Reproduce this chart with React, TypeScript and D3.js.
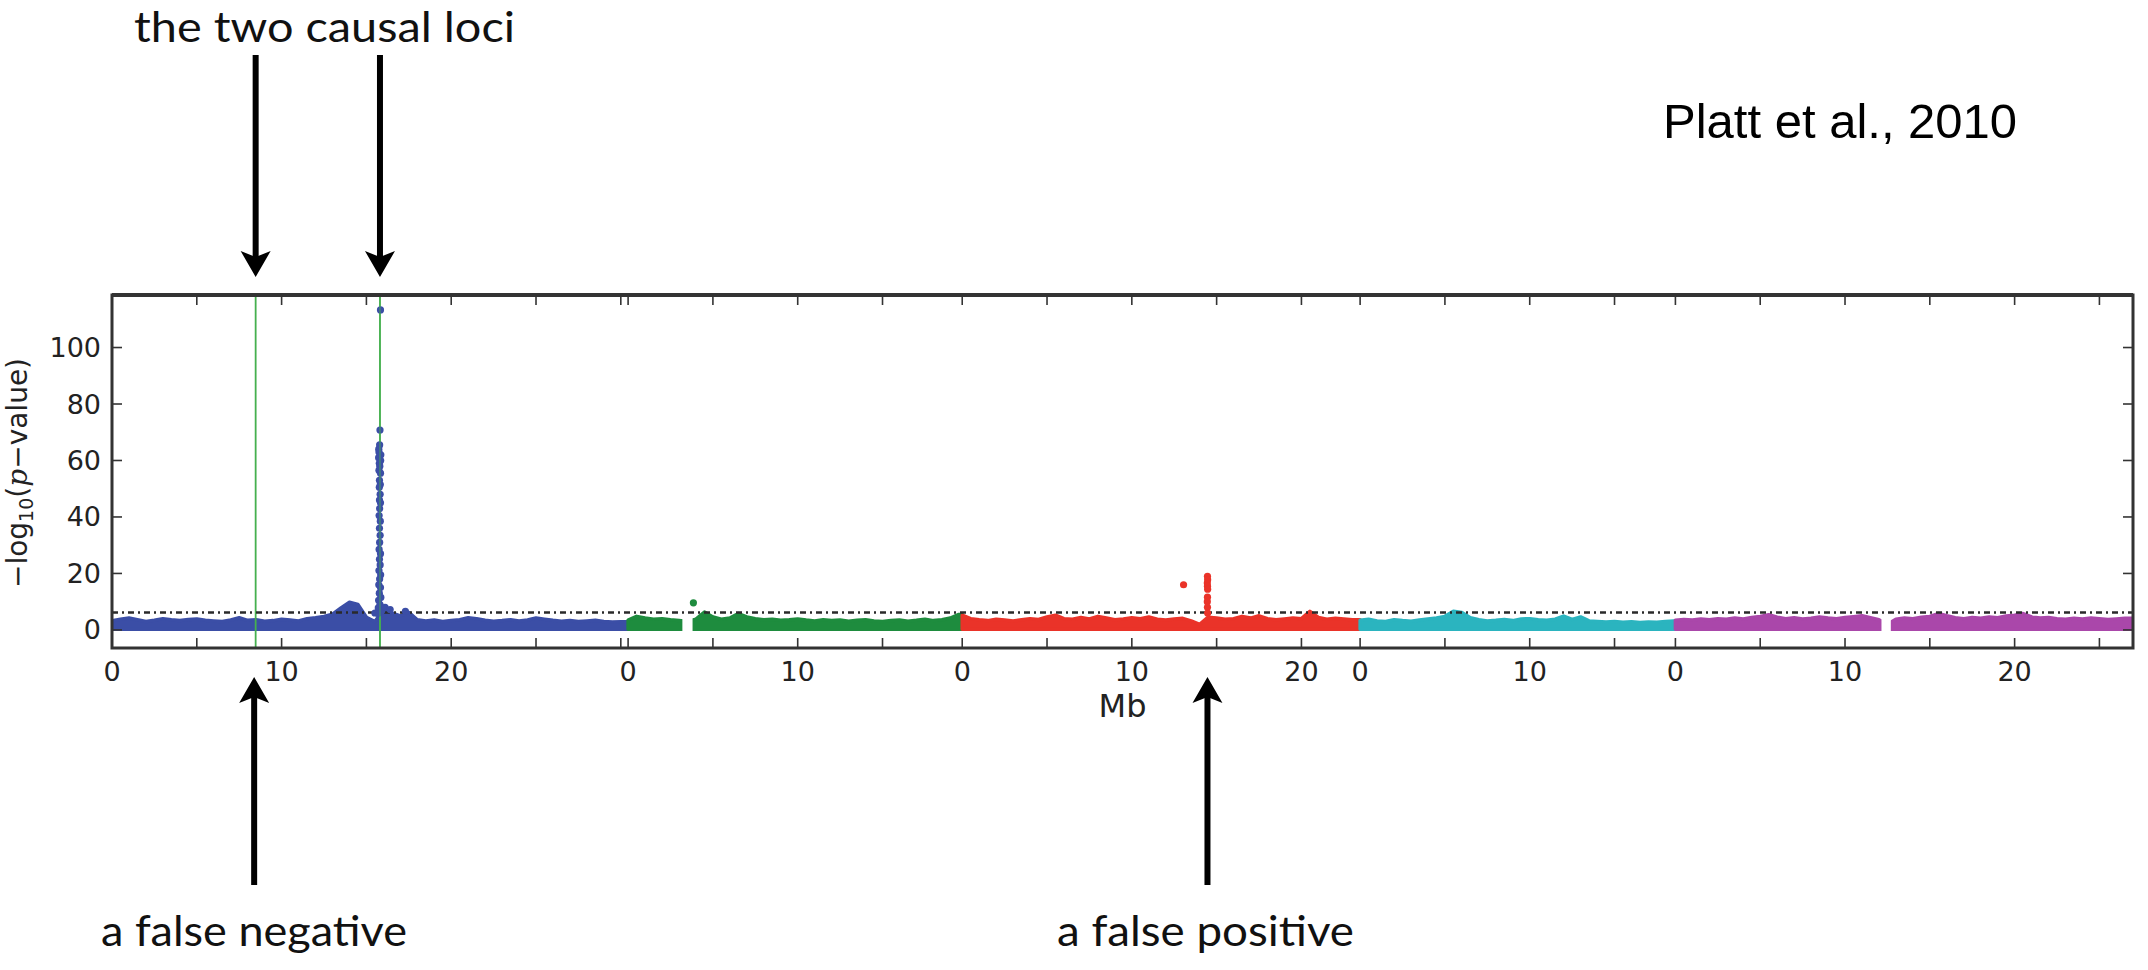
import React from 'react';
import * as d3 from 'd3';

// ---------- data ----------
const chromNames = ['1', '2', '3', '4', '5'];
const chromLengths = [30.43, 19.7, 23.46, 18.59, 26.98]; // Mb
const chromColors = ['#3b4ea6', '#1e8c3e', '#ea3329', '#2bb4bf', '#aa47aa'];

const bandStep = 0.5; // Mb between envelope samples
// upper envelope of the dense SNP cloud, -log10(p), every 0.5 Mb
const chr1Top = [3.2, 3.8, 4.2, 3.6, 3.0, 3.4, 4.0, 3.6, 3.3, 3.7, 3.9, 3.4, 3.2, 3.0, 3.5, 4.3, 3.4, 3.6, 3.1, 3.3,
  3.8, 3.5, 3.2, 4.0, 4.3, 4.8, 5.6, 7.8, 9.8, 9.0, 4.5, 3.0, 7.0, 6.0, 5.0, 6.2, 3.6, 3.2, 3.5, 3.0,
  3.3, 3.6, 4.3, 4.0, 3.4, 3.1, 3.3, 3.6, 3.2, 3.5, 4.2, 3.8, 3.4, 3.1, 3.3, 3.0, 3.2, 3.4, 3.0, 2.8, 2.9];
const chr2Top = [3.5, 4.8, 4.2, 3.8, 4.0, 3.6, 3.3, 3.0, 3.8, 6.3, 4.6, 3.8, 4.2, 5.8, 4.6, 4.0, 3.6, 3.8, 3.4, 3.6,
  3.9, 3.5, 3.2, 3.6, 3.3, 3.5, 3.1, 3.4, 3.6, 3.2, 3.0, 3.3, 3.5, 3.1, 3.4, 3.8, 3.3, 3.6, 4.2, 5.5];
const chr3Top = [5.2, 4.0, 3.6, 3.3, 3.8, 3.5, 3.2, 3.6, 4.0, 3.7, 4.6, 5.2, 4.0, 3.8, 4.4, 3.9, 4.8, 4.2, 3.6, 3.9,
  4.3, 4.0, 4.6, 3.8, 3.5, 3.9, 4.1, 3.2, 2.0, 4.5, 4.2, 3.8, 4.0, 4.8, 4.2, 5.0, 4.0, 3.6, 3.9, 4.2,
  4.0, 6.6, 4.4, 3.8, 4.1, 3.9, 3.6];
const chr4Top = [3.4, 3.8, 3.2, 3.0, 3.6, 3.3, 3.1, 3.5, 3.9, 4.2, 4.8, 6.6, 6.2, 4.3, 3.6, 3.2, 3.4, 3.7, 3.3, 3.9,
  4.0, 3.6, 3.4, 3.8, 4.9, 3.7, 4.6, 3.2, 3.0, 2.8, 3.0, 2.7, 2.9, 2.6, 2.8, 2.7, 3.0, 3.2];
const chr5Top = [3.4, 3.7, 3.5, 3.9, 3.6, 4.0, 3.8, 4.2, 3.9, 4.4, 4.8, 5.4, 4.5, 4.0, 4.3, 3.9, 4.1, 4.6, 4.2, 4.0,
  4.4, 4.7, 5.0, 4.3, 3.6, 2.0, 3.8, 4.2, 4.0, 4.5, 4.8, 5.8, 5.0, 4.3, 4.0, 4.4, 4.1, 4.6, 4.3, 4.9,
  5.2, 5.8, 4.6, 4.2, 4.4, 4.0, 3.8, 4.1, 3.9, 4.2, 4.0, 3.7, 3.9, 4.1];
const bandTops = [chr1Top, chr2Top, chr3Top, chr4Top, chr5Top];

// regions without markers: [chromosome index, from Mb, to Mb]
const markerGaps: [number, number, number][] = [[1, 3.2, 3.8], [4, 12.15, 12.7]];

// individual SNPs standing out of the cloud: [chromosome index, Mb, -log10 p]
const outliers: [number, number, number][] = [
  [0, 15.83, 113.3], [0, 15.8, 70.8], [0, 15.78, 65.5], [0, 15.73, 64.0], [0, 15.74, 63.0], [0, 15.85, 62.0],
  [0, 15.72, 61.0], [0, 15.84, 60.0], [0, 15.76, 59.0], [0, 15.79, 58.0], [0, 15.74, 56.5], [0, 15.83, 55.5],
  [0, 15.77, 53.0], [0, 15.82, 51.5], [0, 15.76, 50.5], [0, 15.81, 48.0], [0, 15.77, 46.0], [0, 15.83, 45.0],
  [0, 15.78, 43.0], [0, 15.75, 40.5], [0, 15.82, 38.5], [0, 15.77, 36.0], [0, 15.81, 33.5], [0, 15.78, 31.0],
  [0, 15.75, 28.5], [0, 15.83, 27.0], [0, 15.77, 25.0], [0, 15.81, 23.0], [0, 15.74, 21.0], [0, 15.84, 19.5],
  [0, 15.78, 18.0], [0, 15.73, 16.0], [0, 15.83, 15.0], [0, 15.76, 13.0], [0, 15.85, 11.5], [0, 15.72, 10.5],
  [0, 15.8, 9.0], [0, 15.7, 7.8], [0, 15.9, 6.8], [0, 15.68, 5.8], [0, 16.1, 8.0], [0, 16.4, 7.2],
  [0, 15.5, 6.0], [0, 17.3, 6.6],
  [1, 3.85, 9.6],
  [2, 13.05, 16.0], [2, 14.46, 19.0], [2, 14.47, 17.8], [2, 14.45, 16.6], [2, 14.46, 15.5], [2, 14.47, 14.4],
  [2, 14.46, 11.6], [2, 14.45, 10.0], [2, 14.46, 8.0], [2, 14.47, 6.0],
];

const causalLoci: [number, number][] = [[0, 8.47], [0, 15.8]]; // [chromosome index, Mb]
const falsePositive: [number, number] = [2, 14.46];
const threshold = 6.15;

const yTicks = [0, 20, 40, 60, 80, 100];
const xTickLabels = [[0, 10, 20], [0, 10], [0, 10, 20], [0, 10], [0, 10, 20]];
const minorTickStep = 5;

const yLabelParts = { pre: '\u2212log', sub: '10', open: '(', p: 'p', post: '\u2212value)' };
const xLabel = 'Mb';
const topNote = 'the two causal loci';
const noteNeg = 'a false negative';
const notePos = 'a false positive';
const citation = 'Platt et al., 2010';

// ---------- component ----------
export default function App() {
  const W = 2148;
  const H = 970;
  const left = 112, right = 2133, top = 295, bottom = 648;

  const offsets = chromLengths.map((_, i) => d3.sum(chromLengths.slice(0, i)));
  const total = d3.sum(chromLengths);
  const x = d3.scaleLinear().domain([0, total]).range([left, right]);
  const y = d3.scaleLinear().domain([-6.4, 118.6]).range([bottom, top]);
  const gx = (c: number, mb: number) => x(offsets[c] + mb);

  const area = d3.area<[number, number]>()
    .x(d => x(d[0]))
    .y0(y(0.2))
    .y1(d => y(d[1]))
    .curve(d3.curveLinear);

  const bandPaths = bandTops.map((tops, i) => {
    const pts: [number, number][] = tops.map((v, j) => [offsets[i] + j * bandStep, v]);
    pts.push([offsets[i] + chromLengths[i], tops[tops.length - 1]]);
    return area(pts) || '';
  });

  const minorTicks: number[] = [];
  chromLengths.forEach((len, i) => {
    for (let t = 0; t < len; t += minorTickStep) minorTicks.push(offsets[i] + t);
  });
  const labels: { v: number; t: string }[] = [];
  xTickLabels.forEach((arr, i) => arr.forEach(t => labels.push({ v: offsets[i] + t, t: String(t) })));

  const tickLen = 10;
  const axisColor = '#333';
  const tickFont = { fontFamily: 'DejaVu Sans', fontSize: 27, fill: '#222' };
  const noteFont = { fontFamily: 'Lato', fontSize: 43, fill: '#111' };

  const arrowDown = (ax: number, y1: number, tip: number) => (
    <g key={`ad${ax}`}>
      <line x1={ax} x2={ax} y1={y1} y2={tip - 20} stroke="#000" strokeWidth={6} />
      <path d={`M${ax - 15},${tip - 26} L${ax},${tip} L${ax + 15},${tip - 26} L${ax},${tip - 20} Z`} fill="#000" />
    </g>
  );
  const arrowUp = (ax: number, tip: number, y2: number) => (
    <g key={`au${ax}`}>
      <line x1={ax} x2={ax} y1={tip + 20} y2={y2} stroke="#000" strokeWidth={6} />
      <path d={`M${ax - 15},${tip + 26} L${ax},${tip} L${ax + 15},${tip + 26} L${ax},${tip + 20} Z`} fill="#000" />
    </g>
  );

  return (
    <svg width={W} height={H} style={{ position: 'absolute', left: 0, top: 0, background: '#fff' }}>
      <defs>
        <mask id="gapMask">
          <rect x={0} y={0} width={W} height={H} fill="#fff" />
          {markerGaps.map(([c, a, b], i) => (
            <rect key={i} x={gx(c, a)} width={gx(c, b) - gx(c, a)} y={y(5.6)} height={y(-2.5) - y(5.6)} fill="#000" />
          ))}
        </mask>
        <clipPath id="plotClip">
          <rect x={left} y={top} width={right - left} height={bottom - top} />
        </clipPath>
      </defs>
      <rect x={0} y={0} width={W} height={H} fill="#fff" />

      <g clipPath="url(#plotClip)">
        {/* SNP cloud */}
        <g mask="url(#gapMask)">
          {bandPaths.map((p, i) => (
            <path key={i} d={p} fill={chromColors[i]} stroke={chromColors[i]} strokeWidth={3.5} strokeLinejoin="round" />
          ))}
        </g>
        {/* causal loci lines */}
        {causalLoci.map(([c, mb], i) => (
          <line key={i} x1={gx(c, mb)} x2={gx(c, mb)} y1={top} y2={bottom} stroke="#45b04f" strokeWidth={1.8} />
        ))}
        {/* significance threshold */}
        <line x1={left} x2={right} y1={y(threshold)} y2={y(threshold)} stroke="#2a2a2a" strokeWidth={2.6}
          strokeDasharray="6,4,2,4" />
        {/* outlier SNPs */}
        {outliers.map(([c, mb, v], i) => (
          <circle key={i} cx={gx(c, mb)} cy={y(v)} r={3.6} fill={chromColors[c]} />
        ))}
        {/* causal locus line stays visible over the peak */}
        <line x1={gx(causalLoci[1][0], causalLoci[1][1])} x2={gx(causalLoci[1][0], causalLoci[1][1])}
          y1={top} y2={bottom} stroke="#45b04f" strokeWidth={1.2} opacity={0.7} />
      </g>

      {/* frame */}
      <rect x={left} y={top} width={right - left} height={bottom - top} fill="none" stroke={axisColor} strokeWidth={3} />
      <line x1={left} x2={right} y1={top} y2={top} stroke={axisColor} strokeWidth={4} />

      {/* x ticks (bottom & top, inward) */}
      {minorTicks.map((v, i) => (
        <g key={i} stroke={axisColor} strokeWidth={1.6}>
          <line x1={x(v)} x2={x(v)} y1={bottom} y2={bottom - tickLen} />
          <line x1={x(v)} x2={x(v)} y1={top} y2={top + tickLen} />
        </g>
      ))}
      {labels.map((l, i) => (
        <text key={i} x={x(l.v)} y={681} textAnchor="middle" {...tickFont}>{l.t}</text>
      ))}
      <text x={(left + right) / 2} y={717} textAnchor="middle" fontFamily="DejaVu Sans" fontSize={32} fill="#222">{xLabel}</text>

      {/* y ticks (left & right, inward) */}
      {yTicks.map(v => (
        <g key={v}>
          <line x1={left} x2={left + tickLen} y1={y(v)} y2={y(v)} stroke={axisColor} strokeWidth={1.6} />
          <line x1={right} x2={right - tickLen} y1={y(v)} y2={y(v)} stroke={axisColor} strokeWidth={1.6} />
          <text x={101} y={y(v)} textAnchor="end" dominantBaseline="central" {...tickFont}>{v}</text>
        </g>
      ))}
      <text transform={`translate(27,473) rotate(-90)`} textAnchor="middle"
        fontFamily="DejaVu Sans" fontSize={28} fill="#222">
        {yLabelParts.pre}
        <tspan fontSize={19} dy={6}>{yLabelParts.sub}</tspan>
        <tspan dy={-6}>{yLabelParts.open}</tspan>
        <tspan fontFamily="DejaVu Serif" fontStyle="italic">{yLabelParts.p}</tspan>
        {yLabelParts.post}
      </text>

      {/* annotations */}
      <text x={134} y={42} textLength={381} lengthAdjust="spacingAndGlyphs" {...noteFont}>{topNote}</text>
      {causalLoci.map(([c, mb]) => arrowDown(gx(c, mb), 55, 277))}
      {arrowUp(gx(causalLoci[0][0], causalLoci[0][1]) - 1.5, 677, 885)}
      {arrowUp(gx(falsePositive[0], falsePositive[1]), 677, 885)}
      <text x={101} y={946} textLength={306} lengthAdjust="spacingAndGlyphs" {...noteFont}>{noteNeg}</text>
      <text x={1057} y={946} textLength={297} lengthAdjust="spacingAndGlyphs" {...noteFont}>{notePos}</text>
      <text x={1663} y={138} fontFamily="Liberation Sans" fontSize={49} fill="#000">{citation}</text>
    </svg>
  );
}
